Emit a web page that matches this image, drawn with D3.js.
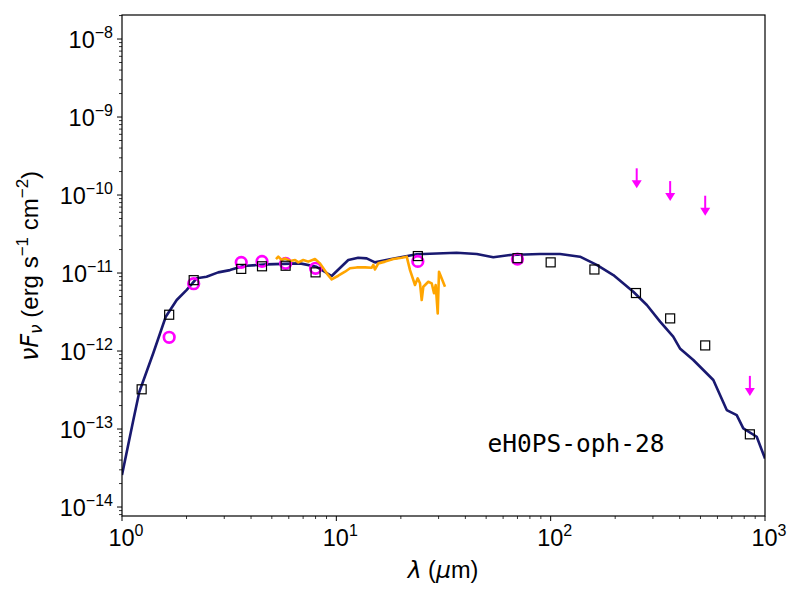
<!DOCTYPE html>
<html><head><meta charset="utf-8">
<script src="https://cdn.jsdelivr.net/npm/d3@7"></script>
<style>body{margin:0;background:#fff;}svg{display:block;}</style>
</head><body>
<svg id="c" width="800" height="600"></svg>
<script>
// Photometry (black squares)
const photWave = [1.235, 1.66, 2.16, 3.6, 4.5, 5.8, 8.0, 24, 70, 100, 160, 250, 361, 526, 850];
const photFlux = [3.23e-13, 2.92e-12, 8.1e-12, 1.13e-11, 1.22e-11, 1.24e-11, 1.02e-11, 1.65e-11, 1.55e-11, 1.37e-11, 1.11e-11, 5.54e-12, 2.62e-12, 1.18e-12, 8.55e-14];
// Magenta circles
const circWave = [1.66, 2.16, 3.6, 4.5, 5.8, 8.0, 24, 70];
const circFlux = [1.5e-12, 7.3e-12, 1.37e-11, 1.41e-11, 1.33e-11, 1.15e-11, 1.41e-11, 1.51e-11];
// Upper limits (magenta arrows)
const limWave = [252, 361, 526, 850];
const limFlux = [2.2e-10, 1.51e-10, 9.8e-11, 4.8e-13];
// Model SED (navy line)
const modelWave = [1.0, 1.129, 1.204, 1.40, 1.60, 1.80, 2.00, 2.23, 2.48, 2.81, 3.19, 3.68, 4.73, 6.77, 8.09, 9.51, 11.37, 12.65, 13.85, 15.15, 17.8, 23.7, 36.4, 45.2, 54.0, 64.6, 89.2, 110.6, 137, 164, 196, 243, 281, 324, 373, 401, 463, 574, 663, 738, 792, 915, 1000];
const modelFlux = [2.57e-14, 1.30e-13, 2.98e-13, 9.42e-13, 2.75e-12, 4.51e-12, 6.05e-12, 8.55e-12, 8.97e-12, 1.02e-11, 1.09e-11, 1.23e-11, 1.29e-11, 1.33e-11, 1.20e-11, 9.16e-12, 1.47e-11, 1.57e-11, 1.54e-11, 1.37e-11, 1.50e-11, 1.74e-11, 1.82e-11, 1.75e-11, 1.59e-11, 1.70e-11, 1.75e-11, 1.75e-11, 1.62e-11, 1.27e-11, 9.42e-12, 5.75e-12, 3.89e-12, 2.38e-12, 1.53e-12, 1.08e-12, 7.67e-13, 4.25e-13, 1.75e-13, 1.51e-13, 1.02e-13, 7.96e-14, 4.2e-14];
// IRS spectrum (orange line)
const specWave = [5.23, 5.36, 5.56, 5.76, 6.08, 6.42, 6.65, 7.01, 7.40, 7.95, 8.39, 9.02, 9.51, 10.21, 10.98, 11.58, 12.45, 13.61, 14.63, 14.88, 15.15, 15.70, 16.87, 18.44, 20.18, 21.30, 22.07, 23.28, 23.97, 24.57, 25.02, 25.46, 26.86, 27.86, 28.56, 29.08, 29.72, 30.13, 30.79, 32.14];
const specFlux = [1.51e-11, 1.62e-11, 1.47e-11, 1.54e-11, 1.43e-11, 1.47e-11, 1.37e-11, 1.47e-11, 1.40e-11, 1.51e-11, 1.33e-11, 9.91e-12, 8.30e-12, 9.23e-12, 1.04e-11, 1.15e-11, 1.18e-11, 1.18e-11, 1.17e-11, 1.27e-11, 1.11e-11, 1.33e-11, 1.40e-11, 1.51e-11, 1.57e-11, 1.62e-11, 1.09e-11, 7.02e-12, 8.55e-12, 7.38e-12, 4.51e-12, 6.67e-12, 7.73e-12, 7.38e-12, 5.50e-12, 7.02e-12, 3.04e-12, 1.04e-11, 8.97e-12, 6.67e-12];
const xTickExp = [0, 1, 2, 3];
const yTickExp = [-14, -13, -12, -11, -10, -9, -8];
const sourceName = "eH0PS-oph-28";

const svg = d3.select("#c");
const L = 122, R = 765, T = 15, B = 516;
const x = d3.scaleLog().domain([1, 1000]).range([L, R]);
const y = d3.scaleLog().domain([Math.pow(10, -14.115), Math.pow(10, -7.692)]).range([B, T]);
const font = "'Liberation Sans', Arial, Helvetica, sans-serif";
const mfont = "'DejaVu Sans', sans-serif";

// minor + major ticks
const g = svg.append("g");
for (let e = 0; e < 3; e++) for (let m = 2; m <= 9; m++) {
  const v = m * Math.pow(10, e);
  g.append("line").attr("x1", x(v)).attr("x2", x(v)).attr("y1", B).attr("y2", B + 3).attr("stroke", "#000").attr("stroke-width", 0.8);
}
for (let e = -15; e < -7; e++) for (let m = 2; m <= 9; m++) {
  const v = m * Math.pow(10, e);
  if (y(v) < T || y(v) > B) continue;
  g.append("line").attr("x1", L - 3).attr("x2", L).attr("y1", y(v)).attr("y2", y(v)).attr("stroke", "#000").attr("stroke-width", 0.8);
}
xTickExp.forEach(e => {
  const v = Math.pow(10, e);
  g.append("line").attr("x1", x(v)).attr("x2", x(v)).attr("y1", B).attr("y2", B + 5).attr("stroke", "#000").attr("stroke-width", 1);
  const t = g.append("text").attr("x", x(v) + 4).attr("y", B + 30).attr("text-anchor", "middle").attr("font-family", font).attr("font-size", 23.5);
  t.append("tspan").text("10");
  t.append("tspan").attr("dy", -10).attr("font-size", 16).text(String(e));
});
yTickExp.forEach(e => {
  const v = Math.pow(10, e);
  g.append("line").attr("x1", L - 5).attr("x2", L).attr("y1", y(v)).attr("y2", y(v)).attr("stroke", "#000").attr("stroke-width", 1);
  const t = g.append("text").attr("x", L - 9).attr("y", y(v) + 9).attr("text-anchor", "end").attr("font-family", font).attr("font-size", 23.5);
  t.append("tspan").text("10");
  t.append("tspan").attr("dy", -10).attr("font-size", 16).text("\u2212" + Math.abs(e));
});

svg.append("clipPath").attr("id", "pc").append("rect").attr("x", L).attr("y", T).attr("width", R - L).attr("height", B - T);
const plot = svg.append("g").attr("clip-path", "url(#pc)");
const line = d3.line().x(d => x(d[0])).y(d => y(d[1]));

plot.append("path").datum(modelWave.map((w, i) => [w, modelFlux[i]])).attr("d", line)
  .attr("fill", "none").attr("stroke", "#191970").attr("stroke-width", 2.6).attr("stroke-linejoin", "round");

plot.selectAll("circle.c").data(circWave.map((w, i) => [w, circFlux[i]])).join("circle")
  .attr("cx", d => x(d[0])).attr("cy", d => y(d[1])).attr("r", 5.3)
  .attr("fill", "none").attr("stroke", "#ff00ff").attr("stroke-width", 2.7);

plot.append("path").datum(specWave.map((w, i) => [w, specFlux[i]])).attr("d", line)
  .attr("fill", "none").attr("stroke", "#ffa500").attr("stroke-width", 2.6).attr("stroke-linejoin", "round");

plot.selectAll("rect.s").data(photWave.map((w, i) => [w, photFlux[i]])).join("rect")
  .attr("x", d => x(d[0]) - 4.5).attr("y", d => y(d[1]) - 4.5).attr("width", 9).attr("height", 9)
  .attr("fill", "none").attr("stroke", "#000").attr("stroke-width", 1.2);

const lims = plot.selectAll("g.l").data(limWave.map((w, i) => [w, limFlux[i]])).join("g")
  .attr("transform", d => `translate(${x(d[0])},${y(d[1])})`);
lims.append("line").attr("x1", 0).attr("x2", 0).attr("y1", 0).attr("y2", 13).attr("stroke", "#ff00ff").attr("stroke-width", 2);
lims.append("path").attr("d", "M-5,12 L5,12 L0,20 Z").attr("fill", "#ff00ff");

// frame
svg.append("rect").attr("x", L).attr("y", T).attr("width", R - L).attr("height", B - T)
  .attr("fill", "none").attr("stroke", "#000").attr("stroke-width", 1.2);

// source label
svg.append("text").attr("x", 576).attr("y", 452).attr("text-anchor", "middle")
  .attr("font-family", "'DejaVu Sans Mono', monospace").attr("font-size", 24.5).text(sourceName);

// axis labels
const xl = svg.append("text").attr("x", 443).attr("y", 578).attr("text-anchor", "middle").attr("font-family", font).attr("font-size", 23.5);
xl.append("tspan").attr("font-family", mfont).attr("font-style", "italic").text("\u03bb");
xl.append("tspan").text(" (");
xl.append("tspan").attr("font-family", mfont).attr("font-style", "italic").text("\u03bc");
xl.append("tspan").text("m)");

const yl = svg.append("text").attr("transform", "translate(38,266) rotate(-90)").attr("text-anchor", "middle").attr("font-family", font).attr("font-size", 24);
yl.append("tspan").attr("font-family", mfont).attr("font-style", "italic").text("\u03bdF");
yl.append("tspan").attr("font-family", mfont).attr("font-style", "italic").attr("font-size", 17).attr("dy", 4).text("\u03bd");
yl.append("tspan").attr("dy", -4).text(" (erg s");
yl.append("tspan").attr("font-size", 17).attr("dy", -10).text("\u22121");
yl.append("tspan").attr("dy", 10).text(" cm");
yl.append("tspan").attr("font-size", 17).attr("dy", -10).text("\u22122");
yl.append("tspan").attr("dy", 10).text(")");
</script>
</body></html>
